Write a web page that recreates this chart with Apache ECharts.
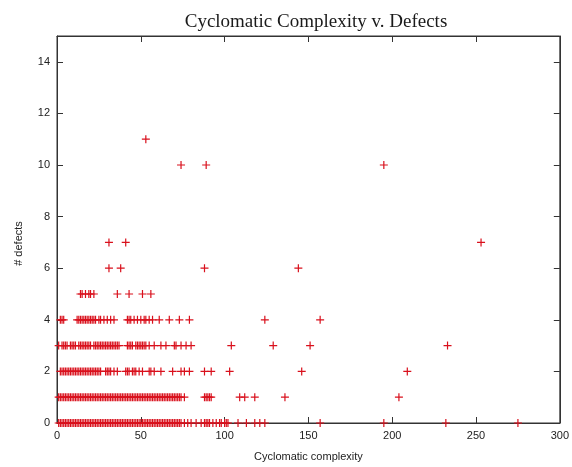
<!DOCTYPE html>
<html>
<head>
<meta charset="utf-8">
<script src="https://cdn.jsdelivr.net/npm/echarts@6/dist/echarts.min.js"></script>
<style>
html,body{margin:0;padding:0;background:#fff;}
#chart{width:572px;height:467px;}
</style>
</head>
<body>
<div id="chart"></div>
<script>
// Cyclomatic complexity values observed at each defect count
const defectLevels = [0, 1, 2, 3, 4, 5, 6, 7, 10, 11];
const ccDefects0 = [1,2,3,4,5,6,7,8,9,10,11,12,13,14,15,16,17,18,19,20,21,22,23,24,25,26,27,28,29,30,31,32,33,34,35,36,37,38,39,40,41,42,43,44,45,46,47,48,49,50,51,52,53,54,55,56,57,58,59,60,61,62,63,64,65,66,67,68,69,70,71,72,73,74,76,78,80,83,86,88,89,90,91,93,95,97,98,100,101,102,108,113,118,121,124,157,195,232,275];
const ccDefects1 = [1,2,3,4,5,6,7,8,9,10,11,12,13,14,15,16,17,18,19,20,21,22,23,24,25,26,27,28,29,30,31,32,33,34,35,36,37,38,39,40,41,42,43,44,45,46,47,48,49,50,51,52,53,54,55,56,57,58,59,60,61,62,63,64,65,66,67,68,69,70,71,72,73,74,76,88,89,90,91,92,109,112,118,136,204];
const ccDefects2 = [2,3,4,5,6,7,8,9,10,11,12,13,14,15,16,17,18,19,20,21,22,23,24,25,26,29,30,31,32,34,36,41,42,43,45,46,47,49,51,55,56,58,62,69,74,76,79,88,92,103,146,209];
const ccDefects3 = [1,3,4,5,6,8,9,10,11,13,14,15,16,17,18,19,20,22,23,24,25,26,27,28,29,30,31,32,33,34,35,36,37,42,43,44,45,47,48,49,50,51,52,53,55,58,62,65,70,71,74,77,80,104,129,151,233];
const ccDefects4 = [2,3,4,12,13,14,15,16,17,18,19,20,21,22,23,25,26,28,30,32,34,42,43,44,46,48,50,52,53,55,57,61,67,73,79,124,157];
const ccDefects5 = [14,15,17,19,20,22,36,43,51,56];
const ccDefects6 = [31,38,88,144];
const ccDefects7 = [31,41,253];
const ccDefects10 = [74,89,195];
const ccDefects11 = [53];
const ccRows = [ccDefects0, ccDefects1, ccDefects2, ccDefects3, ccDefects4, ccDefects5, ccDefects6, ccDefects7, ccDefects10, ccDefects11];

const xTicks = [0, 50, 100, 150, 200, 250, 300];
const yTicks = [0, 2, 4, 6, 8, 10, 12, 14];

const points = [];
ccRows.forEach((row, i) => row.forEach(cc => points.push([cc, defectLevels[i]])));

const labelFont = "'Liberation Sans', Arial, sans-serif";
const axisColor = '#333';
const plus = 'path://M4.25,0H5.75V4.25H10V5.75H5.75V10H4.25V5.75H0V4.25H4.25Z';

const chart = echarts.init(document.getElementById('chart'), null, {renderer: 'canvas'});

function baseX() {
  return {
    type: 'value', min: xTicks[0], max: xTicks[xTicks.length - 1], interval: xTicks[1] - xTicks[0],
    splitLine: {show: false},
    axisLine: {show: true, onZero: false, lineStyle: {color: axisColor, width: 1}},
    axisTick: {show: true, inside: true, length: 6, lineStyle: {color: axisColor}}
  };
}
function baseY() {
  return {
    type: 'value', min: yTicks[0], max: 15, interval: yTicks[1] - yTicks[0],
    splitLine: {show: false},
    axisLine: {show: true, onZero: false, lineStyle: {color: axisColor, width: 1}},
    axisTick: {show: true, inside: true, length: 6, lineStyle: {color: axisColor}}
  };
}

chart.setOption({
  animation: false,
  backgroundColor: '#fff',
  title: {
    text: 'Cyclomatic Complexity v. Defects',
    left: 311, top: 8, textAlign: 'center',
    textStyle: {fontFamily: "'Liberation Serif', 'DejaVu Serif', serif", fontSize: 19, fontWeight: 'normal', color: '#1a1a1a'}
  },
  grid: {left: 57, right: 8, top: 36, bottom: 41, show: true, borderColor: axisColor, borderWidth: 1, backgroundColor: 'transparent'},
  xAxis: [
    Object.assign(baseX(), {
      position: 'bottom',
      name: 'Cyclomatic complexity', nameLocation: 'middle', nameGap: 28,
      nameTextStyle: {fontFamily: labelFont, fontSize: 11, color: '#222'},
      axisLabel: {show: true, margin: 7, fontFamily: labelFont, fontSize: 11, color: '#222'}
    }),
    Object.assign(baseX(), {position: 'top', axisLabel: {show: false}})
  ],
  yAxis: [
    Object.assign(baseY(), {
      position: 'left',
      name: '# defects', nameLocation: 'middle', nameGap: 33, nameRotate: 90,
      nameTextStyle: {fontFamily: labelFont, fontSize: 11, color: '#222', padding: [0, 28, 0, 0]},
      axisLabel: {show: true, margin: 7, showMaxLabel: false, fontFamily: labelFont, fontSize: 11, color: '#222'}
    }),
    Object.assign(baseY(), {position: 'right', axisLabel: {show: false}})
  ],
  series: [{
    type: 'scatter',
    xAxisIndex: 0, yAxisIndex: 0,
    data: points,
    symbol: plus,
    symbolSize: 8,
    itemStyle: {color: '#d9101c', opacity: 1},
    silent: true,
    clip: false
  }]
});
</script>
</body>
</html>
